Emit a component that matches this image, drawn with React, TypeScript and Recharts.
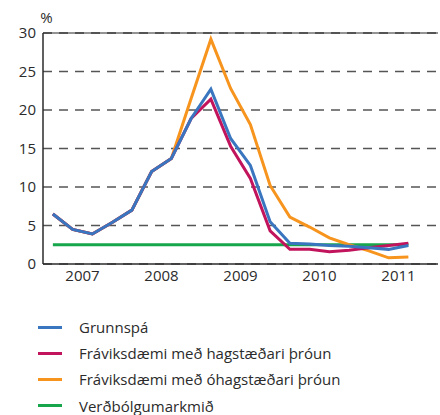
import { LineChart, Line, XAxis, YAxis, CartesianGrid, ReferenceLine, Legend } from 'recharts';

// quarterly figures, 2007 Q1 - 2011 Q3
const quarters = [
  '2007K1', '2007K2', '2007K3', '2007K4',
  '2008K1', '2008K2', '2008K3', '2008K4',
  '2009K1', '2009K2', '2009K3', '2009K4',
  '2010K1', '2010K2', '2010K3', '2010K4',
  '2011K1', '2011K2', '2011K3',
];
const years = ['2007', '2008', '2009', '2010', '2011'];
const yTicks = [0, 5, 10, 15, 20, 25, 30];

const grunnspa = [6.5, 4.5, 3.9, 5.4, 7.0, 12.0, 13.7, 18.9, 22.7, 16.3, 12.8, 5.5, 2.7, 2.6, 2.4, 2.3, 2.1, 1.9, 2.4];
const hagstaedari = [6.5, 4.5, 3.9, 5.4, 7.0, 12.0, 13.7, 18.9, 21.4, 15.3, 11.1, 4.3, 1.9, 1.9, 1.6, 1.8, 2.1, 2.4, 2.7];
const ohagstaedari = [6.5, 4.5, 3.9, 5.4, 7.0, 12.0, 13.7, 21.5, 29.2, 22.8, 18.1, 10.2, 6.1, 4.8, 3.4, 2.5, 1.7, 0.8, 0.9];
const markmid = [2.5, 2.5, 2.5, 2.5, 2.5, 2.5, 2.5, 2.5, 2.5, 2.5, 2.5, 2.5, 2.5, 2.5, 2.5, 2.5, 2.5, 2.5, 2.5];

const series = [
  { key: 'grunnspa', name: 'Grunnspá', color: '#3a76bf' },
  { key: 'hag', name: 'Fráviksdæmi með hagstæðari þróun', color: '#c1145c' },
  { key: 'ohag', name: 'Fráviksdæmi með óhagstæðari þróun', color: '#f7941d' },
  { key: 'markmid', name: 'Verðbólgumarkmið', color: '#17a64b' },
];
// drawing order (bottom to top)
const drawOrder = ['markmid', 'ohag', 'hag', 'grunnspa'];

const data = quarters.map((q, i) => ({
  q,
  x: i + 0.5,
  grunnspa: grunnspa[i],
  hag: hagstaedari[i],
  ohag: ohagstaedari[i],
  markmid: markmid[i],
}));

const yearTicks = years.map((_, i) => i * 4 + 2);
const yearBounds = [0, 4, 8, 12, 16, 20];

const ink = '#2b2b2b';

function LegendBox() {
  return (
    <div>
      {series.map((s) => (
        <div key={s.key} style={{ display: 'flex', alignItems: 'center', height: 26.2 }}>
          <span style={{ display: 'inline-block', marginLeft: 38, width: 24, height: 3, background: s.color }} />
          <span style={{ marginLeft: 17, fontSize: 15, lineHeight: '18px', color: ink, whiteSpace: 'nowrap' }}>
            {s.name}
          </span>
        </div>
      ))}
    </div>
  );
}

export default function App() {
  return (
    <div
      style={{
        position: 'absolute',
        left: 0,
        top: 0,
        width: 440,
        height: 415,
        background: '#fff',
        fontFamily: '"Open Sans", sans-serif',
      }}
    >
      <LineChart width={440} height={415} data={data} margin={{ top: 33, right: 2, bottom: 2, left: 0 }}>
        <CartesianGrid vertical={false} stroke="#555" strokeWidth={1.3} strokeDasharray="9 7" />
        <XAxis
          xAxisId="yr"
          type="number"
          dataKey="x"
          domain={[0, 20]}
          ticks={yearTicks}
          interval={0}
          tickFormatter={(v: number) => years[(v - 2) / 4]}
          tickLine={false}
          tickSize={0}
          tickMargin={6}
          height={50}
          axisLine={{ stroke: ink, strokeWidth: 1.5 }}
          tick={{ fontSize: 15, fill: ink }}
        />
        <XAxis
          xAxisId="q"
          type="number"
          dataKey="x"
          domain={[0, 20]}
          ticks={yearBounds}
          interval={0}
          tick={false}
          tickSize={6}
          tickLine={{ stroke: ink, strokeWidth: 1.5 }}
          axisLine={false}
          height={0}
        />
        <YAxis
          type="number"
          domain={[0, 30]}
          ticks={yTicks}
          interval={0}
          width={43}
          tickLine={false}
          tickSize={0}
          tickMargin={7}
          axisLine={{ stroke: ink, strokeWidth: 1.5 }}
          tick={{ fontSize: 15, fill: ink }}
          label={{ value: '%', position: 'top', offset: 10, dx: 25, fontSize: 15, fill: ink }}
        />
        <YAxis
          yAxisId="r"
          orientation="right"
          type="number"
          domain={[0, 30]}
          width={0}
          tick={false}
          tickLine={false}
          axisLine={{ stroke: '#999', strokeWidth: 1.2 }}
        />
        <ReferenceLine xAxisId="yr" y={30} stroke={ink} strokeWidth={1.2} />
        {drawOrder.map((k) => {
          const s = series.find((d) => d.key === k)!;
          return (
            <Line
              key={k}
              xAxisId="yr"
              type="linear"
              dataKey={k}
              name={s.name}
              stroke={s.color}
              strokeWidth={3}
              dot={false}
              activeDot={false}
              isAnimationActive={false}
            />
          );
        })}
        <Legend verticalAlign="bottom" height={99} wrapperStyle={{ left: 0, width: 440 }} content={() => <LegendBox />} />
      </LineChart>
    </div>
  );
}
